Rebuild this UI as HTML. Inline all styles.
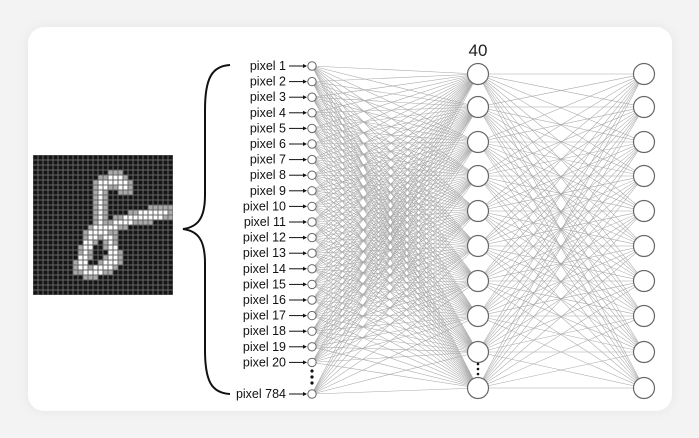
<!DOCTYPE html>
<html><head><style>
body{margin:0;background:#f3f3f3;width:699px;height:438px;overflow:hidden;font-family:"Liberation Sans",sans-serif}
.card{position:absolute;left:28px;top:27px;width:644px;height:384px;background:#fff;border-radius:16px;box-shadow:0 0 12px rgba(0,0,0,0.06)}
svg{position:absolute;left:0;top:0}
</style></head><body>
<div class="card"></div>
<svg id="s" width="699" height="438" xmlns="http://www.w3.org/2000/svg">
<g id="digit"></g>
<path d="M230,65 C212,66 205,78 205,110 L205,195 C205,218 198,227 183,229 C198,231 205,240 205,263 L205,350 C205,382 212,393 230,394" fill="none" stroke="#111" stroke-width="2"/>
<g id="lines" stroke="#999" stroke-width="0.55" opacity="0.85"></g>
<g id="labels" font-size="12.5" fill="#111" text-anchor="end"></g>
<g id="nodes" fill="#fff" stroke="#666"></g>
<text x="478" y="56" font-size="17" text-anchor="middle" fill="#222">40</text>
<g fill="#111"><circle cx="312" cy="371" r="1.6"/><circle cx="312" cy="377" r="1.6"/><circle cx="312" cy="383" r="1.6"/>
<circle cx="478" cy="364" r="1.3"/><circle cx="478" cy="369" r="1.3"/><circle cx="478" cy="374" r="1.3"/></g>
</svg>
<script>
const NS="http://www.w3.org/2000/svg";
function el(t,a,p){const e=document.createElementNS(NS,t);for(const k in a)e.setAttribute(k,a[k]);p.appendChild(e);return e;}
const dg=document.getElementById('digit');
el('rect',{x:33,y:155,width:140,height:140,fill:'#666'},dg);
const strokes=[[[14,5],[16,4],[18,6]],[[14,5],[13,6],[13,14],[11,16],[10,19],[9,22],[11,23],[14,22],[16,20],[15,17],[14,15],[13,14]],[[15,14],[17,13],[20,12],[26,11]]];
function dist(px,py,a,b){const dx=b[0]-a[0],dy=b[1]-a[1];let t=((px-a[0])*dx+(py-a[1])*dy)/(dx*dx+dy*dy||1);t=Math.max(0,Math.min(1,t));const x=a[0]+t*dx-px,y=a[1]+t*dy-py;return Math.sqrt(x*x+y*y);}
for(let r=0;r<28;r++)for(let c=0;c<28;c++){let d=99;for(const s of strokes)for(let i=0;i<s.length-1;i++)d=Math.min(d,dist(c,r,s[i],s[i+1]));
let col=d<0.85?'#fafafa':d<1.5?'#aaa':'#151515';el('rect',{x:33.5+c*5,y:155.5+r*5,width:4,height:4,fill:col},dg);}
const L=document.getElementById('lines'),N=document.getElementById('nodes'),T=document.getElementById('labels');
const inY=[];for(let i=0;i<20;i++)inY.push(66+i*15.6);inY.push(394);
const hY=[74,107,142,176,211,246,281,316,352,388];
for(const y of inY)for(const h of hY)el('line',{x1:312,y1:y,x2:478,y2:h},L);
for(const a of hY)for(const b of hY)el('line',{x1:478,y1:a,x2:644,y2:b},L);
inY.forEach((y,i)=>{const t=el('text',{x:286,y:y+4},T);t.textContent='pixel '+(i<20?i+1:784);
el('line',{x1:289,y1:y,x2:305,y2:y,stroke:'#111','stroke-width':1},N);
el('path',{d:`M303,${y-2} L307,${y} L303,${y+2}`,fill:'#111',stroke:'none'},N);
el('circle',{cx:312,cy:y,r:4.2,'stroke-width':1},N);});
for(const h of hY){el('circle',{cx:478,cy:h,r:10.5,'stroke-width':1.2},N);el('circle',{cx:644,cy:h,r:10.5,'stroke-width':1.2},N);}
</script>
</body></html>
